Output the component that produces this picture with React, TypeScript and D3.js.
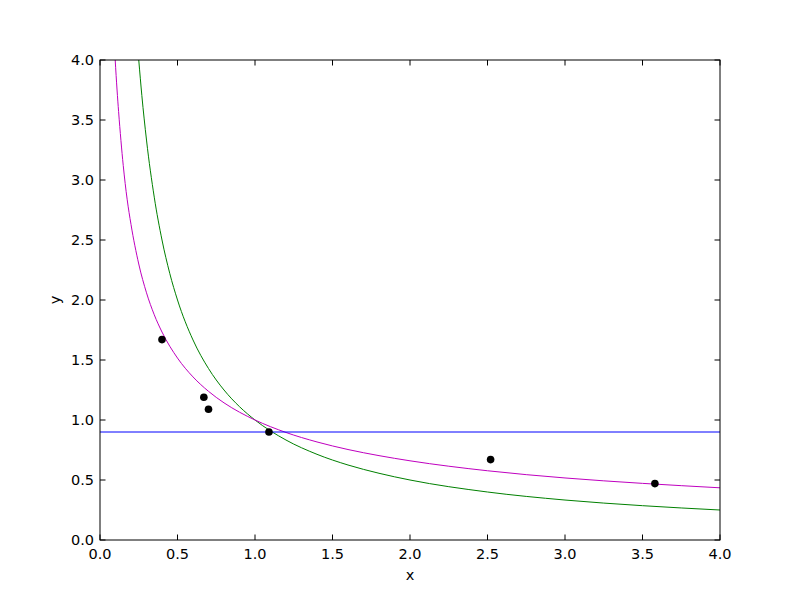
import React from "react";
import * as d3 from "d3";

const xTicks = [0, 0.5, 1.0, 1.5, 2.0, 2.5, 3.0, 3.5, 4.0];
const yTicks = [0, 0.5, 1.0, 1.5, 2.0, 2.5, 3.0, 3.5, 4.0];

const greenX = [0.25, 0.27, 0.3, 0.35, 0.4, 0.45, 0.5, 0.6, 0.7, 0.8, 0.9, 1.0, 1.2, 1.4, 1.6, 1.8, 2.0, 2.5, 3.0, 3.5, 4.0];
const greenY = [4.0, 3.704, 3.333, 2.857, 2.5, 2.222, 2.0, 1.667, 1.429, 1.25, 1.111, 1.0, 0.833, 0.714, 0.625, 0.556, 0.5, 0.4, 0.333, 0.286, 0.25];

const magentaX = [0.098, 0.11, 0.12, 0.135, 0.15, 0.175, 0.2, 0.25, 0.3, 0.35, 0.4, 0.5, 0.6, 0.7, 0.8, 0.9, 1.0, 1.2, 1.4, 1.6, 1.8, 2.0, 2.5, 3.0, 3.5, 4.0];
const magentaY = [4.0, 3.75, 3.57, 3.33, 3.12, 2.84, 2.63, 2.30, 2.06, 1.877, 1.733, 1.516, 1.359, 1.239, 1.143, 1.065, 1.0, 0.896, 0.817, 0.754, 0.703, 0.66, 0.577, 0.517, 0.472, 0.435];

const hLineY = 0.9;

const pointsX = [0.4, 0.67, 0.7, 1.09, 2.52, 3.58];
const pointsY = [1.67, 1.19, 1.09, 0.9, 0.67, 0.47];

export default function App() {
  const W = 800, H = 600;
  const L = 100, R = 720, T = 60, B = 540;
  const x = d3.scaleLinear().domain([0, 4]).range([L, R]);
  const y = d3.scaleLinear().domain([0, 4]).range([B, T]);

  const line = d3
    .line<[number, number]>()
    .x((d) => x(d[0]))
    .y((d) => y(d[1]))
    .curve(d3.curveMonotoneX);

  const green = line(greenX.map((v, i) => [v, greenY[i]] as [number, number])) || "";
  const magenta = line(magentaX.map((v, i) => [v, magentaY[i]] as [number, number])) || "";

  const tl = 5.5;
  const font = "DejaVu Sans, sans-serif";
  const fs = 14.5;

  return (
    <svg
      width={W}
      height={H}
      style={{ position: "absolute", left: 0, top: 0, background: "#fff" }}
    >
      <rect x={0} y={0} width={W} height={H} fill="#fff" />
      <defs>
        <clipPath id="plotclip">
          <rect x={L} y={T} width={R - L} height={B - T} />
        </clipPath>
      </defs>
      <g clipPath="url(#plotclip)">
        <path d={green} fill="none" stroke="#008000" strokeWidth={1} />
        <path d={magenta} fill="none" stroke="#bf00bf" strokeWidth={1} />
        <line x1={L} x2={R} y1={y(hLineY)} y2={y(hLineY)} stroke="#0000ff" strokeWidth={1} />
        {pointsX.map((px, i) => (
          <circle key={i} cx={x(px)} cy={y(pointsY[i])} r={3.8} fill="#000" />
        ))}
      </g>
      {xTicks.map((t, i) => (
        <g key={"xt" + i}>
          <line x1={x(t)} x2={x(t)} y1={B} y2={B - tl} stroke="#000" />
          <line x1={x(t)} x2={x(t)} y1={T} y2={T + tl} stroke="#000" />
          <text x={x(t)} y={B + 18.5} textAnchor="middle" fontFamily={font} fontSize={fs} fill="#000">
            {t.toFixed(1)}
          </text>
        </g>
      ))}
      {yTicks.map((t, i) => (
        <g key={"yt" + i}>
          <line x1={L} x2={L + tl} y1={y(t)} y2={y(t)} stroke="#000" />
          <line x1={R} x2={R - tl} y1={y(t)} y2={y(t)} stroke="#000" />
          <text x={L - 6} y={y(t) + 5} textAnchor="end" fontFamily={font} fontSize={fs} fill="#000">
            {t.toFixed(1)}
          </text>
        </g>
      ))}
      <rect x={L} y={T} width={R - L} height={B - T} fill="none" stroke="#000" strokeWidth={1} />
      <text x={(L + R) / 2} y={580} textAnchor="middle" fontFamily={font} fontSize={fs} fill="#000">
        x
      </text>
      <text
        transform={`translate(60, ${(T + B) / 2}) rotate(-90)`}
        textAnchor="middle"
        fontFamily={font}
        fontSize={fs}
        fill="#000"
      >
        y
      </text>
    </svg>
  );
}
